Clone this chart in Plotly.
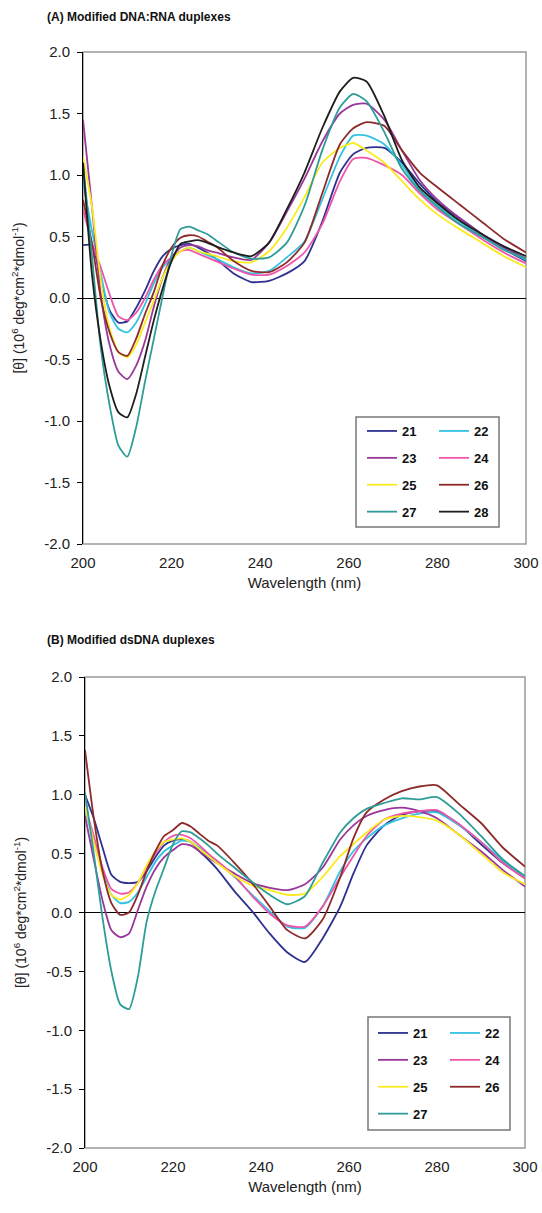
import plotly.graph_objects as go

# ---------------- data ----------------
wavelength = [200, 202, 204, 206, 208, 210, 212, 214, 216, 218, 220, 222, 224, 226, 228, 230,
              234, 238, 242, 246, 250, 254, 258, 261, 264, 268, 272, 276, 280, 285, 290, 295, 300]

series_names_a = ["21", "22", "23", "24", "25", "26", "27", "28"]
series_names_b = ["21", "22", "23", "24", "25", "26", "27"]

# Panel A: modified DNA:RNA duplexes (10^6 deg cm2 dmol-1)
a_21 = [0.43, 0.43, 0.15, -0.10, -0.20, -0.19, -0.08, 0.06, 0.22, 0.34, 0.40, 0.43, 0.44, 0.41, 0.37, 0.32,
        0.20, 0.13, 0.14, 0.20, 0.30, 0.62, 1.02, 1.17, 1.22, 1.22, 1.10, 0.93, 0.78, 0.65, 0.52, 0.40, 0.30]
a_22 = [0.95, 0.55, 0.20, -0.12, -0.25, -0.28, -0.20, -0.05, 0.12, 0.25, 0.32, 0.38, 0.41, 0.38, 0.35, 0.32,
        0.25, 0.20, 0.22, 0.33, 0.46, 0.80, 1.15, 1.32, 1.32, 1.25, 1.08, 0.88, 0.75, 0.62, 0.50, 0.40, 0.31]
a_23 = [1.45, 0.75, 0.03, -0.38, -0.60, -0.66, -0.55, -0.35, -0.07, 0.17, 0.33, 0.41, 0.43, 0.42, 0.39, 0.37,
        0.33, 0.31, 0.45, 0.70, 0.97, 1.27, 1.50, 1.57, 1.58, 1.45, 1.20, 0.96, 0.80, 0.65, 0.52, 0.41, 0.32]
a_24 = [0.72, 0.45, 0.25, 0.03, -0.15, -0.18, -0.12, 0.00, 0.15, 0.27, 0.33, 0.38, 0.39, 0.36, 0.33, 0.30,
        0.24, 0.19, 0.19, 0.26, 0.37, 0.60, 0.95, 1.13, 1.14, 1.08, 1.00, 0.85, 0.72, 0.60, 0.48, 0.37, 0.28]
a_25 = [1.15, 0.75, 0.15, -0.25, -0.44, -0.48, -0.38, -0.20, -0.02, 0.17, 0.30, 0.38, 0.41, 0.38, 0.36, 0.34,
        0.30, 0.29, 0.38, 0.57, 0.82, 1.10, 1.22, 1.26, 1.20, 1.10, 0.95, 0.80, 0.68, 0.56, 0.45, 0.34, 0.25]
a_26 = [0.80, 0.45, 0.00, -0.28, -0.44, -0.47, -0.33, -0.13, 0.05, 0.27, 0.41, 0.49, 0.51, 0.50, 0.46, 0.42,
        0.30, 0.22, 0.21, 0.29, 0.45, 0.85, 1.25, 1.38, 1.43, 1.40, 1.20, 1.02, 0.90, 0.76, 0.62, 0.48, 0.37]
a_27 = [1.10, 0.35, -0.40, -0.87, -1.20, -1.29, -1.05, -0.68, -0.33, 0.02, 0.35, 0.56, 0.58, 0.55, 0.52, 0.47,
        0.37, 0.32, 0.33, 0.45, 0.75, 1.20, 1.55, 1.66, 1.60, 1.35, 1.05, 0.87, 0.74, 0.60, 0.50, 0.39, 0.32]
a_28 = [1.10, 0.20, -0.35, -0.72, -0.93, -0.97, -0.78, -0.48, -0.18, 0.08, 0.30, 0.44, 0.46, 0.47, 0.45, 0.42,
        0.37, 0.34, 0.45, 0.72, 1.02, 1.38, 1.68, 1.79, 1.76, 1.48, 1.12, 0.90, 0.77, 0.63, 0.52, 0.42, 0.34]

# Panel B: modified dsDNA duplexes
b_21 = [1.00, 0.80, 0.55, 0.32, 0.26, 0.25, 0.26, 0.35, 0.47, 0.57, 0.61, 0.62, 0.60, 0.52, 0.45, 0.37,
        0.18, 0.01, -0.18, -0.34, -0.42, -0.22, 0.05, 0.33, 0.57, 0.74, 0.83, 0.86, 0.86, 0.75, 0.58, 0.42, 0.29]
b_22 = [0.88, 0.60, 0.35, 0.15, 0.08, 0.09, 0.17, 0.30, 0.43, 0.52, 0.57, 0.61, 0.60, 0.55, 0.49, 0.43,
        0.30, 0.15, 0.01, -0.12, -0.13, 0.05, 0.35, 0.52, 0.63, 0.74, 0.80, 0.84, 0.85, 0.74, 0.60, 0.44, 0.30]
b_23 = [0.82, 0.45, 0.10, -0.15, -0.21, -0.18, 0.02, 0.22, 0.37, 0.47, 0.53, 0.58, 0.57, 0.52, 0.47, 0.42,
        0.33, 0.25, 0.21, 0.19, 0.24, 0.38, 0.62, 0.74, 0.82, 0.87, 0.89, 0.86, 0.80, 0.66, 0.52, 0.36, 0.22]
b_24 = [0.90, 0.65, 0.38, 0.20, 0.16, 0.17, 0.25, 0.38, 0.50, 0.60, 0.65, 0.66, 0.63, 0.57, 0.50, 0.44,
        0.31, 0.14, -0.01, -0.11, -0.12, 0.05, 0.30, 0.48, 0.65, 0.79, 0.84, 0.86, 0.87, 0.75, 0.60, 0.42, 0.29]
b_25 = [0.90, 0.60, 0.32, 0.15, 0.11, 0.15, 0.25, 0.40, 0.52, 0.60, 0.62, 0.63, 0.60, 0.54, 0.48, 0.42,
        0.31, 0.23, 0.19, 0.15, 0.16, 0.30, 0.48, 0.58, 0.68, 0.79, 0.82, 0.81, 0.78, 0.66, 0.50, 0.34, 0.24]
b_26 = [1.38, 0.80, 0.35, 0.08, -0.02, 0.00, 0.15, 0.35, 0.52, 0.65, 0.70, 0.76, 0.73, 0.67, 0.61, 0.57,
        0.42, 0.25, 0.05, -0.15, -0.22, -0.06, 0.30, 0.63, 0.85, 0.96, 1.03, 1.07, 1.08, 0.92, 0.76, 0.55, 0.39]
b_27 = [1.02, 0.50, -0.05, -0.50, -0.78, -0.82, -0.55, -0.08, 0.18, 0.38, 0.58, 0.69, 0.68, 0.63, 0.57, 0.50,
        0.38, 0.26, 0.15, 0.07, 0.14, 0.42, 0.68, 0.80, 0.88, 0.93, 0.97, 0.96, 0.98, 0.84, 0.65, 0.45, 0.31]

series_a = [a_21, a_22, a_23, a_24, a_25, a_26, a_27, a_28]
series_b = [b_21, b_22, b_23, b_24, b_25, b_26, b_27]

x_ticks = [200, 220, 240, 260, 280, 300]
y_ticks = [-2.0, -1.5, -1.0, -0.5, 0.0, 0.5, 1.0, 1.5, 2.0]
y_ticktext = ["-2.0", "-1.5", "-1.0", "-0.5", "0.0", "0.5", "1.0", "1.5", "2.0"]

title_a = "(A) Modified DNA:RNA duplexes"
title_b = "(B) Modified dsDNA duplexes"
x_title = "Wavelength (nm)"
y_title = "[θ] (10<sup>6</sup> deg*cm<sup>2</sup>*dmol<sup>-1</sup>)"

colors = {
    "21": "#2E3190",
    "22": "#33C2E2",
    "23": "#99379B",
    "24": "#EE55AA",
    "25": "#FAEB1E",
    "26": "#8E2A2A",
    "27": "#2E9C98",
    "28": "#1E1E1E",
}

# ---------------- layout geometry ----------------
W, H = 542, 1213
FONT = "Arial, Liberation Sans, sans-serif"


def px_x(p):
    return p / W


def px_y(p):
    return 1 - p / H


fig = go.Figure()

col1 = ["21", "23", "25", "27"]
legend_of_a = {n: ("legend" if n in col1 else "legend2") for n in series_names_a}
legend_of_b = {n: ("legend3" if n in col1 else "legend4") for n in series_names_b}

for name, vals in zip(series_names_a, series_a):
    fig.add_trace(go.Scatter(
        x=wavelength, y=vals, mode="lines", name=name,
        line=dict(color=colors[name], width=1.8, shape="spline", smoothing=0.6),
        xaxis="x", yaxis="y", legend=legend_of_a[name], legendgroup="a" + name,
    ))

for name, vals in zip(series_names_b, series_b):
    fig.add_trace(go.Scatter(
        x=wavelength, y=vals, mode="lines", name=name,
        line=dict(color=colors[name], width=1.8, shape="spline", smoothing=0.6),
        xaxis="x2", yaxis="y2", legend=legend_of_b[name], legendgroup="b" + name,
    ))

axis_font = dict(family=FONT, size=15, color="#222222")

xa = dict(range=[200, 300], tickvals=x_ticks, ticks="", showgrid=False, zeroline=False,
          showline=False, tickfont=axis_font, fixedrange=True, automargin=False,
          ticklabelstandoff=8,
          title=dict(text=x_title, font=axis_font, standoff=7))
ya = dict(range=[-2, 2], tickvals=y_ticks, ticktext=y_ticktext, ticks="outside", ticklen=5,
          tickcolor="#000", showline=True, linecolor="#000", linewidth=1, showgrid=False,
          zeroline=True, zerolinecolor="#000", zerolinewidth=1, tickfont=axis_font,
          automargin=False, ticklabelstandoff=4, fixedrange=True,
          title=dict(text=y_title, font=dict(family=FONT, size=14, color="#222222"), standoff=16))

leg_common = dict(bgcolor="rgba(0,0,0,0)", borderwidth=0,
                  font=dict(family=FONT, size=13, color="#111", weight="bold"),
                  orientation="v", xanchor="left", yanchor="top", tracegroupgap=7,
                  itemclick=False, itemdoubleclick=False)

fig.update_layout(
    width=W, height=H,
    margin=dict(l=0, r=0, t=0, b=0, autoexpand=False),
    paper_bgcolor="white", plot_bgcolor="white",
    font=dict(family=FONT),
    showlegend=True,
    xaxis=dict(xa, domain=[px_x(83), px_x(526)], anchor="y"),
    yaxis=dict(ya, domain=[px_y(544), px_y(52)], anchor="x"),
    xaxis2=dict(xa, domain=[px_x(85), px_x(525)], anchor="y2"),
    yaxis2=dict(ya, domain=[px_y(1148), px_y(677)], anchor="x2"),
    legend=dict(leg_common, x=px_x(362), y=px_y(416)),
    legend2=dict(leg_common, x=px_x(434), y=px_y(416)),
    legend3=dict(leg_common, x=px_x(373), y=px_y(1018)),
    legend4=dict(leg_common, x=px_x(445), y=px_y(1018)),
    annotations=[
        dict(text="<b>" + title_a + "</b>", x=px_x(45), y=px_y(17), xref="paper", yref="paper",
             xanchor="left", yanchor="middle", showarrow=False,
             font=dict(family=FONT, size=12, color="#111")),
        dict(text="<b>" + title_b + "</b>", x=px_x(45), y=px_y(640), xref="paper", yref="paper",
             xanchor="left", yanchor="middle", showarrow=False,
             font=dict(family=FONT, size=12, color="#111")),
    ],
    shapes=[
        dict(type="rect", xref="x domain", yref="y domain", x0=0, x1=1, y0=0, y1=1,
             line=dict(color="#9a9a9a", width=1.5), layer="below"),
        dict(type="rect", xref="x2 domain", yref="y2 domain", x0=0, x1=1, y0=0, y1=1,
             line=dict(color="#9a9a9a", width=1.5), layer="below"),
        dict(type="rect", xref="paper", yref="paper", x0=px_x(356), x1=px_x(499),
             y0=px_y(527), y1=px_y(417), line=dict(color="#777", width=1.5), layer="above"),
        dict(type="rect", xref="paper", yref="paper", x0=px_x(368), x1=px_x(510),
             y0=px_y(1130), y1=px_y(1017), line=dict(color="#777", width=1.5), layer="above"),
    ],
)

fig.write_html(
    "out.html",
    config={"displayModeBar": False},
    post_script="document.body.style.margin='0px';document.body.style.overflow='hidden';",
)
